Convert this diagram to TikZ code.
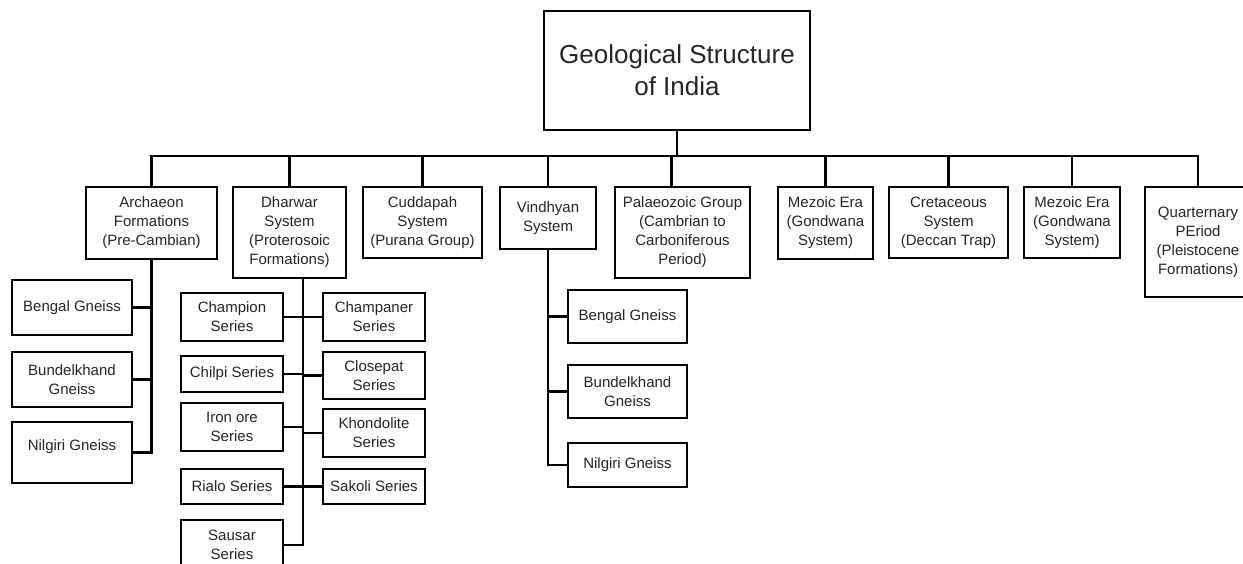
\documentclass[tikz,border=0pt]{standalone}
\usepackage{fontspec}
\setmainfont{Liberation Sans}
\tikzset{
  box/.style={draw=black, line width=2.2pt, align=center, inner sep=1pt,
    text=black!85, font=\fontsize{15}{19}\selectfont},
  link/.style={draw=black, line width=2.2pt},
}
\begin{document}
\begin{tikzpicture}[x=1pt,y=-1pt]
      \fill[white] (0,0) rectangle (1243,564);
      \useasboundingbox (0,0) rectangle (1243,564);

      \node[box, minimum width=266pt, minimum height=119pt, font=\fontsize{26}{32}\selectfont] (root) at (677,70.5) {Geological Structure\\of India};

      % first level
      \node[box, minimum width=131pt, minimum height=72pt] (arch) at (151.5,223) {Archaeon\\Formations\\(Pre-Cambian)};
      \node[box, minimum width=113pt, minimum height=91pt] (dhar) at (289.5,232.5) {Dharwar\\System\\(Proterosoic\\Formations)};
      \node[box, minimum width=119pt, minimum height=71pt] (cudd) at (422.5,222.5) {Cuddapah\\System\\(Purana Group)};
      \node[box, minimum width=96pt, minimum height=62pt] (vind) at (548,218) {Vindhyan\\System};
      \node[box, minimum width=135pt, minimum height=91pt] (pal) at (682.5,232.5) {Palaeozoic Group\\(Cambrian to\\Carboniferous\\Period)};
      \node[box, minimum width=95pt, minimum height=72pt] (mez1) at (825.5,223) {Mezoic Era\\(Gondwana\\System)};
      \node[box, minimum width=119pt, minimum height=71pt] (cret) at (948.5,222.5) {Cretaceous\\System\\(Deccan Trap)};
      \node[box, minimum width=96pt, minimum height=71pt] (mez2) at (1072,222.5) {Mezoic Era\\(Gondwana\\System)};
      \node[box, minimum width=106pt, minimum height=110pt] (quat) at (1198,242) {Quarternary\\PEriod\\(Pleistocene\\Formations)};

      % archaeon
      \node[box, minimum width=120pt, minimum height=55pt] (ben1) at (72,307.5) {Bengal Gneiss};
      \node[box, minimum width=120pt, minimum height=55pt] (bun1) at (72,379.5) {Bundelkhand\\Gneiss};
      \node[box, minimum width=120pt, minimum height=61pt, text depth=14pt] (nil1) at (72,452.5) {Nilgiri Gneiss};

      % dharwar
      \node[box, minimum width=102pt, minimum height=48pt] (cham) at (232,317) {Champion\\Series};
      \node[box, minimum width=102pt, minimum height=48pt] (chmp) at (374,317) {Champaner\\Series};
      \node[box, minimum width=102pt, minimum height=36pt] (chil) at (232,374) {Chilpi Series};
      \node[box, minimum width=102pt, minimum height=47pt] (clos) at (374,375.5) {Closepat\\Series};
      \node[box, minimum width=102pt, minimum height=48pt] (iron) at (232,427) {Iron ore\\Series};
      \node[box, minimum width=102pt, minimum height=48pt] (khon) at (374,433) {Khondolite\\Series};
      \node[box, minimum width=102pt, minimum height=35pt] (rial) at (232,486.5) {Rialo Series};
      \node[box, minimum width=102pt, minimum height=35pt] (sako) at (374,486.5) {Sakoli Series};
      \node[box, minimum width=102pt, minimum height=50pt] (saus) at (232,545) {Sausar\\Series};

      % vindhyan
      \node[box, minimum width=119pt, minimum height=53pt] (ben2) at (627.5,316.5) {Bengal Gneiss};
      \node[box, minimum width=119pt, minimum height=53pt] (bun2) at (627.5,391.5) {Bundelkhand\\Gneiss};
      \node[box, minimum width=119pt, minimum height=44pt] (nil2) at (627.5,465) {Nilgiri Gneiss};

      \draw[link] (root.south) -- ++(0,25) coordinate (bus);
      \draw[link] (arch.north) |- (bus) -| (quat.north);
      \foreach \n in {dhar,cudd,vind,mez1,cret,mez2}
        \draw[link] (\n.north) -- (\n.north |- bus);
      \draw[link] ([xshift=-11pt]pal.north) -- ([xshift=-11pt]pal.north |- bus);

      \draw[link] (arch.south) |- (nil1.east);
      \foreach \n in {ben1,bun1}
        \draw[link] (\n.east) -- (\n.east -| arch.south);

      \coordinate (dt) at ([xshift=13.5pt]dhar.south);
      \draw[link] (dt) |- (saus.east);
      \foreach \n in {cham,chil,iron,rial}
        \draw[link] (\n.east) -- (\n.east -| dt);
      \foreach \n in {chmp,clos,khon,sako}
        \draw[link] (\n.west) -- (\n.west -| dt);

      \draw[link] (vind.south) |- (nil2.west);
      \foreach \n in {ben2,bun2}
        \draw[link] (\n.west) -- (\n.west -| vind.south);
\end{tikzpicture}
\end{document}
